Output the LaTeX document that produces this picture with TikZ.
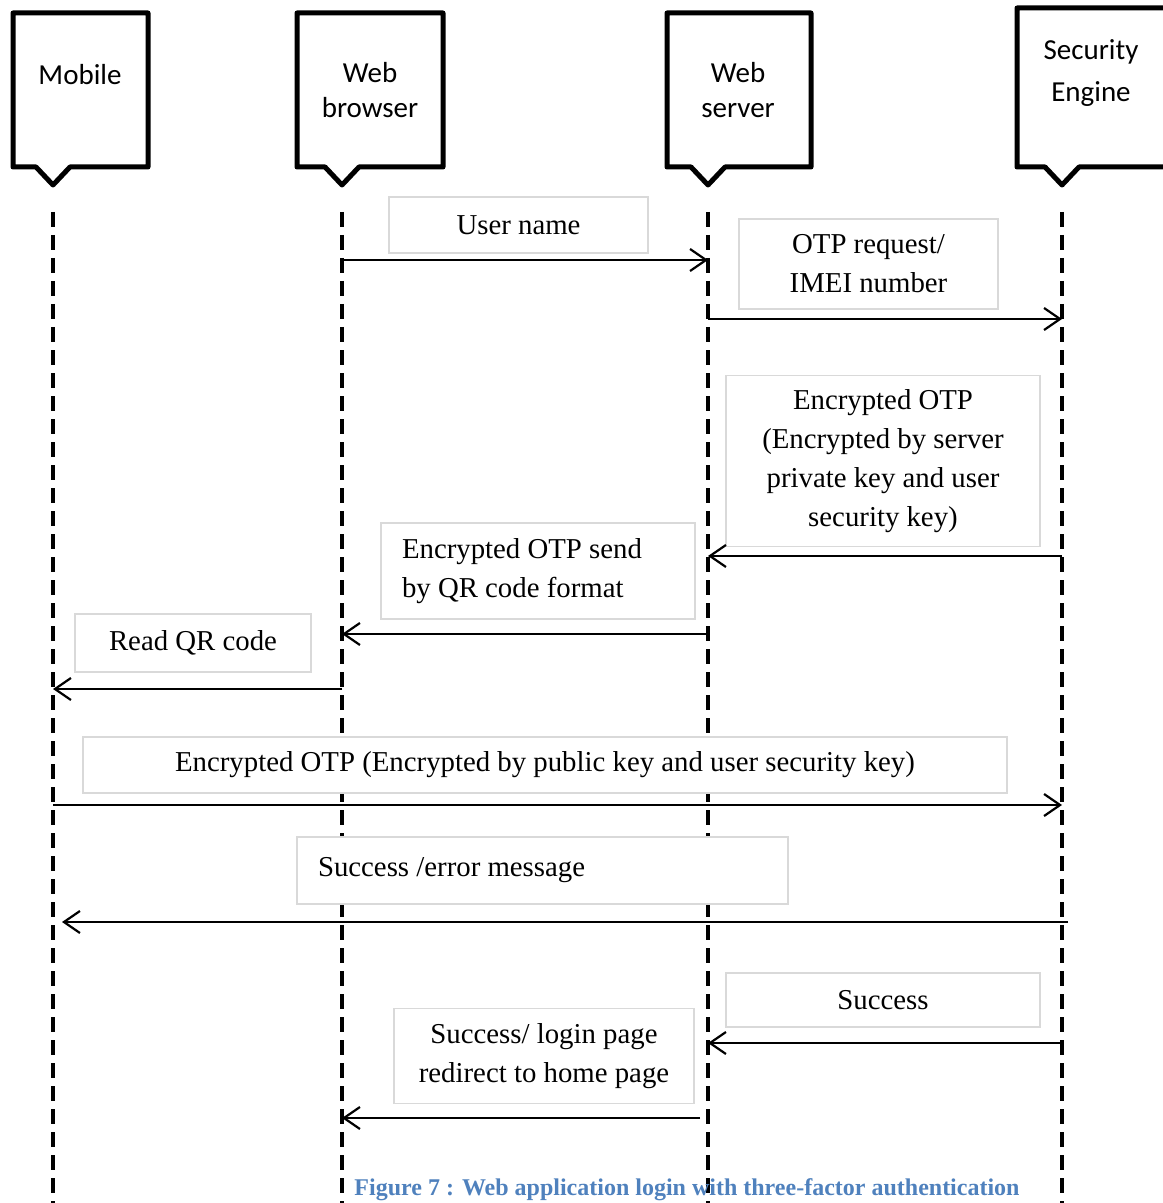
\documentclass[tikz,border=0pt]{standalone}
\usepackage{fontspec}
\setmainfont{Liberation Serif}
\newfontfamily\hdfont{Carlito}
\usetikzlibrary{arrows.meta}
\definecolor{boxgray}{RGB}{217,217,217}
\definecolor{capblue}{RGB}{79,129,189}

\begin{document}
\begin{tikzpicture}[x=0.5pt, y=-0.5pt,
    actorline/.style={line width=2.5pt, line join=round},
    actortext/.style={align=center, inner sep=0},
    lifeline/.style={line width=1.6pt, dash pattern=on 7.5pt off 4pt},
    msgbox/.style={draw=boxgray, line width=0.8pt, fill=white, inner sep=0,
        align=center, font=\fontsize{14.4}{19.5}\selectfont},
    msg/.style={line width=1.1pt, -{Straight Barb[length=8pt, width=11pt]}}]

        \useasboundingbox (0,0) rectangle (1162,1203);
        \coordinate (bottom) at (0,1203);

        % actors and their lifelines
        \foreach \n/\l/\r/\t/\x/\tx/\ty/\bs/\lab in {
            mobile/13/148/13/53/80/75/17.5/Mobile,
            browser/297/443/13/342/370/90/17.5/{Web\\browser},
            server/667/811/13/708/738/90/17.5/{Web\\server},
            engine/1017/1175/8/1062/1091/73/21/{Security\\Engine}} {
            \draw[actorline] (\l,\t) -- (\r,\t) -- (\r,167) -- (\x+17,167)
                -- (\x,185) -- (\x-17,167) -- (\l,167) -- cycle;
            \node[actortext, font=\hdfont\fontsize{14.5}{\bs}\selectfont] (\n txt) at (\tx,\ty) {\lab};
            \coordinate (\n) at (\x,185);
            \draw[lifeline] ([yshift=-13.5pt]\n) -- (\n |- bottom);
        }

        \node[msgbox, minimum width=129.5pt, minimum height=28pt] (uname) at (518.5,225) {User name};
        \coordinate (y1) at (0,260);
        \draw[msg] (browser |- y1) -- (server |- y1);

        \node[msgbox, minimum width=129.5pt, minimum height=45pt] (otpreq) at (868.5,264) {OTP request/\\IMEI number};
        \coordinate (y2) at (0,319);
        \draw[msg] (server |- y2) -- (engine |- y2);

        \node[msgbox, minimum width=157pt, minimum height=85.5pt] (encotp) at (883,461)
            {Encrypted OTP\\(Encrypted by server\\private key and user\\security key)};
        \coordinate (y3) at (0,556);
        \draw[msg] (engine |- y3) -- (server |- y3);

        \node[msgbox, align=flush left, text width=136pt, minimum width=157pt, minimum height=48pt] (qrsend) at (538,571)
            {Encrypted OTP send\\by QR code format};
        \coordinate (y4) at (0,634);
        \draw[msg] (server |- y4) -- (browser |- y4);

        \node[msgbox, minimum width=118pt, minimum height=29pt] (readqr) at (193,643) {Read QR code};
        \coordinate (y5) at (0,689);
        \draw[msg] (browser |- y5) -- (mobile |- y5);

        \node[msgbox, minimum width=462pt, minimum height=28pt] (pubkey) at (545,765)
            {Encrypted OTP (Encrypted by public key and user security key)};
        \coordinate (y6) at (0,805);
        \draw[msg] (mobile |- y6) -- (engine |- y6);

        \node[msgbox, align=flush left, text width=224.5pt, minimum width=245.5pt, minimum height=33.5pt] (errmsg) at (542.5,870.5)
            {Success /error message\\[-4pt]};
        \coordinate (y7) at (0,922);
        \draw[msg] ([xshift=3pt]engine |- y7) -- ([xshift=4.5pt]mobile |- y7);

        \node[msgbox, minimum width=157pt, minimum height=27pt] (success) at (883,1000) {Success};
        \coordinate (y8) at (0,1043);
        \draw[msg] (engine |- y8) -- (server |- y8);

        \node[msgbox, minimum width=150pt, minimum height=47.5pt] (login) at (544,1056)
            {Success/ login page\\redirect to home page};
        \coordinate (y9) at (0,1118);
        \draw[msg] ([xshift=-4pt]server |- y9) -- (browser |- y9);

        \node[text=capblue, font=\bfseries\fontsize{12}{14}\selectfont] (caption) at (687,1190)
            {Figure 7 : Web application login with three-factor authentication};
    \end{tikzpicture}
\end{document}
